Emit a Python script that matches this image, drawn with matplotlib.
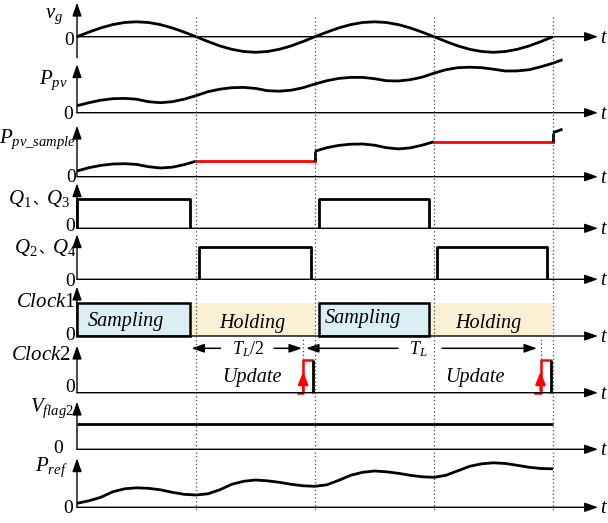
import numpy as np
import matplotlib.pyplot as plt
from matplotlib.patches import Rectangle

plt.rcParams['font.family'] = ['Liberation Serif', 'Noto Sans CJK SC']
plt.rcParams['mathtext.fontset'] = 'custom'
plt.rcParams['mathtext.rm'] = 'Liberation Serif'
plt.rcParams['mathtext.it'] = 'Liberation Serif:italic'

# time in units of T_L/2 (dotted lines at t = 1, 2, 3, 4)
t_grid = np.linspace(0, 4, 41)

# signal heights (arbitrary units above each zero line)
v_g = [0, 4.6, 8.8, 12.1, 14.2, 14.9, 14.2, 12.1, 8.8, 4.6, 0,
       -4.8, -9.2, -12.6, -14.8, -15.6, -14.8, -12.6, -9.2, -4.8, 0,
       4.6, 8.8, 12.1, 14.2, 14.9, 14.2, 12.1, 8.8, 4.6, 0,
       -4.8, -9.2, -12.6, -14.8, -15.6, -14.8, -12.6, -9.2, -4.8, 0]

p_pv = [7, 10, 12.5, 14, 14.3, 13.5, 11, 10, 11, 13.5, 17,
        21, 23.5, 25, 25.3, 24.3, 22, 21.5, 22.5, 25, 28.7,
        32, 34.3, 35.3, 35.3, 34, 32, 31.7, 33, 35.5, 39.5,
        43, 45, 45.5, 45, 43.5, 41.7, 41.8, 43, 46, 49.5]
p_pv_tail_t, p_pv_tail = 4.08, 53.0

# sampled segments of P_pv_sample (t 0..1 and 2..3), then the start of the next one
sample1 = [5.7, 9.0, 11.3, 12.7, 13.0, 12.3, 10.0, 8.7, 9.5, 12.0, 15.5]
sample2 = [25.5, 29.0, 31.3, 32.5, 32.7, 31.5, 29.0, 27.8, 28.8, 31.5, 35.0]
sample3_t = [4.0, 4.08]
sample3 = [44.0, 47.5]

p_ref = [4, 6.5, 10, 15.5, 18.5, 19.5, 19, 17.5, 15, 13, 12.3,
         13.5, 17.5, 23, 26, 27.3, 26.5, 25, 23, 21.5, 21,
         22.5, 27, 32, 35, 36.3, 35.5, 34, 32, 30.5, 30,
         32, 36.5, 41, 43.5, 44.5, 43.8, 42, 40, 38.8, 38.5]

# switching edges (on, off)
q13_pulses = [(0.0, 0.952), (2.03, 2.955)]
q24_pulses = [(1.025, 1.963), (3.025, 3.95)]
q13_high, q24_high = 29.0, 32.7
sampling = q13_pulses
holding = [(0.952, 2.0), (2.955, 3.99)]
clock_high = 32.7
update_rise = [1.9, 3.895]
update_fall = [1.98, 3.98]
vflag_level = 25.3

# ---- layout (pixels) ----
W, H = 608, 523
X0, DX = 77, 119
T_END = 4.378
XLIM = (-X0 / DX, (W - X0) / DX)
RED = '#ff0000'
BLUE_FILL = '#daeef3'
BEIGE_FILL = '#fcf0d4'
FS = 15
FS_WORD = 14.5

fig = plt.figure(figsize=(W / 100, H / 100), dpi=100)

AX_KW = dict(arrowstyle='-|>,head_length=0.8,head_width=0.28', mutation_scale=10,
             lw=1.0, color='k', shrinkA=0, shrinkB=0)


def row(base, tip, low=0, lo=-25, hi=60):
    # one axes per trace; one unit is one pixel above the zero line
    ax = fig.add_axes([0, 1 - (base - lo) / H, 1, (hi - lo) / H])
    ax.set_xlim(XLIM)
    ax.set_ylim(lo, hi)
    ax.axis('off')
    ax.patch.set_alpha(0)
    ax.annotate('', xy=(0, tip), xytext=(0, low), arrowprops=AX_KW, annotation_clip=False)
    ax.annotate('', xy=(T_END, 0), xytext=(0, 0), arrowprops=AX_KW, annotation_clip=False)
    return ax


def put(x, y, s, **kw):
    kw.setdefault('fontsize', FS)
    fig.text(x / W, 1 - y / H, s, **kw)


CURVE = dict(color='k', lw=2.0, clip_on=False, solid_capstyle='butt')

# v_g
ax = row(36.7, 34, low=-21)
ax.plot(t_grid, v_g, **CURVE)

# P_pv
ax = row(112.7, 48.4)
ax.plot(list(t_grid) + [p_pv_tail_t], p_pv + [p_pv_tail], **CURVE)

# P_pv_sample
ax = row(176.7, 51)
t1 = t_grid[0:11]
t2 = t_grid[20:31]
ax.plot(t1, sample1, **CURVE)
ax.plot([1, 2], [sample1[-1], sample1[-1]], color=RED, lw=2.0, clip_on=False)
ax.plot([2, 2], [sample1[-1], sample2[0]], **CURVE)
ax.plot(t2, sample2, **CURVE)
ax.plot([3, 4], [sample2[-1], sample2[-1]], color=RED, lw=2.0, clip_on=False)
ax.plot([4, 4], [sample2[-1], sample3[0]], **CURVE)
ax.plot(sample3_t, sample3, **CURVE)

# Q1, Q3
ax = row(228.3, 45)
for on, off in q13_pulses:
    ax.plot([on, on, off, off], [0, q13_high, q13_high, 0], **CURVE)

# Q2, Q4
ax = row(279.3, 45)
for on, off in q24_pulses:
    ax.plot([on, on, off, off], [0, q24_high, q24_high, 0], **CURVE)

# Clock1
ax = row(336, 49.3)
for on, off in holding:
    ax.add_patch(Rectangle((on, 0), off - on, clock_high, facecolor=BEIGE_FILL,
                           edgecolor='none', zorder=0))
for on, off in sampling:
    ax.add_patch(Rectangle((on, 0), off - on, clock_high, facecolor=BLUE_FILL,
                           edgecolor='k', lw=1.8, zorder=1))

# Clock2
ax = row(392.7, 47)
for r, f in zip(update_rise, update_fall):
    ax.vlines(r, 0, 55, colors='#444444', lw=0.9, linestyles=(0, (1, 2)), clip_on=False)
    ax.plot([r - 0.045, r, r, f - 0.004], [0, 0, clock_high, clock_high],
            color=RED, lw=1.8, clip_on=False)
    ax.plot([f, f], [0, clock_high], **CURVE)
    ax.annotate('', xy=(r, 21), xytext=(r, 2),
                arrowprops=dict(arrowstyle='-|>,head_length=0.75,head_width=0.3',
                                mutation_scale=10, color=RED, lw=1.6, shrinkA=0, shrinkB=0))

DIM_KW = dict(arrowstyle='-|>,head_length=0.75,head_width=0.26', mutation_scale=10,
              lw=1.1, color='k', shrinkA=0, shrinkB=0)
dim_y = 44.4
# T_L/2: end of sampling -> update pulse
a, b = sampling[0][1], update_rise[0]
mid = (a + b) / 2
ax.annotate('', xy=(a + 0.01, dim_y), xytext=(mid - 0.22, dim_y), arrowprops=DIM_KW, annotation_clip=False)
ax.annotate('', xy=(b - 0.01, dim_y), xytext=(mid + 0.23, dim_y), arrowprops=DIM_KW, annotation_clip=False)
# T_L: update pulse -> next update pulse
a, b = update_rise
mid = (a + b) / 2 - 0.03
ax.annotate('', xy=(a + 0.025, dim_y), xytext=(mid - 0.17, dim_y), arrowprops=DIM_KW, annotation_clip=False)
ax.annotate('', xy=(b - 0.03, dim_y), xytext=(mid + 0.2, dim_y), arrowprops=DIM_KW, annotation_clip=False)

# V_flag2
ax = row(449.3, 47.6)
ax.plot([0, 4], [vflag_level, vflag_level], **CURVE)

# P_ref
ax = row(507.3, 49)
ax.plot(t_grid, p_ref, **CURVE)

# dotted interval markers, on top of everything
bg = fig.add_axes([0, 0, 1, 1])
bg.set_xlim(XLIM)
bg.set_ylim(H, 0)
bg.axis('off')
bg.patch.set_alpha(0)
bg.vlines([1, 2, 3, 4], 17, 510, colors='#444444', lw=0.9, linestyles=(0, (1, 2)))

# ---- texts ----
put(63, 18, r'$v_g$', ha='right', va='baseline')
put(68, 84, r'$P_{pv}$', ha='right', va='baseline')
put(76, 143, r'$P_{pv\_sample}$', ha='right', va='baseline')
put(8, 204, r'$Q_{\mathrm{1}}$', ha='left', va='baseline')
put(32, 204, '、', ha='left', va='baseline', fontsize=11, fontfamily='Noto Sans CJK SC')
put(70, 204, r'$Q_{\mathrm{3}}$', ha='right', va='baseline')
put(14, 253, r'$Q_{\mathrm{2}}$', ha='left', va='baseline')
put(38, 253, '、', ha='left', va='baseline', fontsize=11, fontfamily='Noto Sans CJK SC')
put(76, 253, r'$Q_{\mathrm{4}}$', ha='right', va='baseline')
put(76, 307, r'$Clock\mathrm{1}$', ha='right', va='baseline')
put(71, 360, r'$Clock\mathrm{2}$', ha='right', va='baseline')
put(74, 412, r'$V_{flag\mathrm{2}}$', ha='right', va='baseline')
put(68, 471, r'$P_{ref}$', ha='right', va='baseline')

zeros = [(69, 45), (68, 119), (71, 182), (70, 231), (70, 286),
         (70, 340), (70, 392), (58, 453), (68, 513)]
for x, y in zeros:
    put(x, y, '0', ha='center', va='baseline', fontsize=14)

for base in [36.7, 112.7, 176.7, 228.3, 279.3, 336, 392.7, 449.3, 507.3]:
    put(604, base + 6, r'$t$', ha='center', va='baseline', fontsize=14.5)

put(126, 325.7, 'Sampling', ha='center', va='baseline', style='italic', fontsize=FS_WORD)
put(252, 328.3, 'Holding', ha='center', va='baseline', style='italic', fontsize=FS_WORD)
put(363, 323.3, 'Sampling', ha='center', va='baseline', style='italic', fontsize=FS_WORD)
put(488, 328.3, 'Holding', ha='center', va='baseline', style='italic', fontsize=FS_WORD)
put(252, 381.7, 'Update', ha='center', va='baseline', style='italic', fontsize=FS_WORD)
put(475, 381.7, 'Update', ha='center', va='baseline', style='italic', fontsize=FS_WORD)
put(248.5, 354, r'$T_L$/2', ha='center', va='baseline', fontsize=13)
put(418.5, 354, r'$T_L$', ha='center', va='baseline', fontsize=13)

fig.savefig('out.png', dpi=100)
